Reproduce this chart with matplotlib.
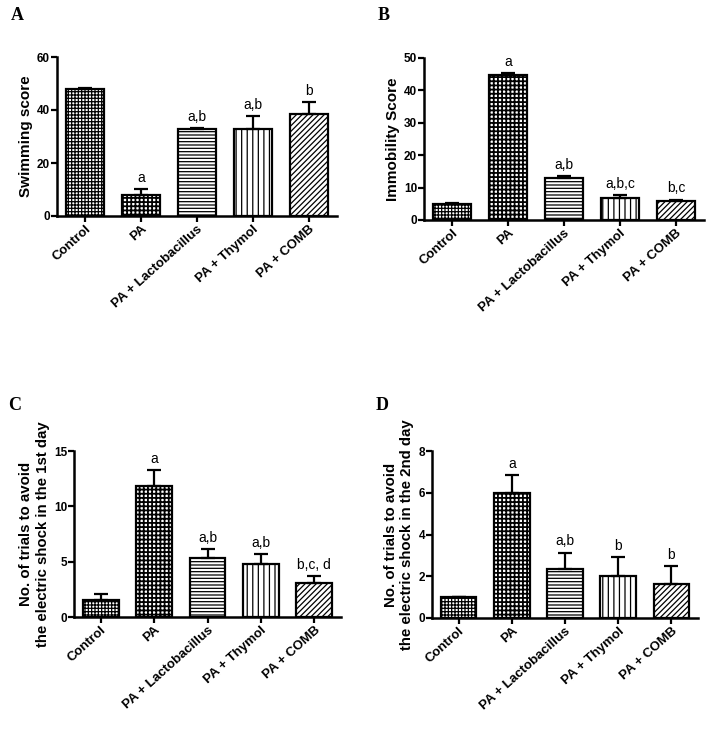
import numpy as np
import matplotlib
matplotlib.use("Agg")
import matplotlib.pyplot as plt

plt.rcParams['font.family'] = ['Liberation Sans', 'DejaVu Sans']
plt.rcParams['hatch.linewidth'] = 0.9

# groups shared by all four panels
groups = ['Control', 'PA', 'PA + Lactobacillus', 'PA + Thymol', 'PA + COMB']
hatches = ['+++++', '++++', '-----', '|||', '//////']
hatch_lw = [0.9, 1.3, 0.9, 0.9, 0.9]

# A: swimming score
swim_mean = [47.8, 7.9, 32.8, 32.8, 38.5]
swim_err = [0.6, 2.3, 0.5, 4.9, 4.5]
swim_sig = ['', 'a', 'a,b', 'a,b', 'b']

# B: immobility score
immo_mean = [4.9, 44.6, 12.9, 6.9, 5.9]
immo_err = [0.4, 0.8, 0.6, 0.8, 0.4]
immo_sig = ['', 'a', 'a,b', 'a,b,c', 'b,c']

# C: trials day 1
day1_mean = [1.5, 11.8, 5.35, 4.8, 3.1]
day1_err = [0.6, 1.5, 0.8, 0.85, 0.6]
day1_sig = ['', 'a', 'a,b', 'a,b', 'b,c, d']

# D: trials day 2
day2_mean = [1.0, 6.0, 2.33, 2.0, 1.65]
day2_err = [0.0, 0.86, 0.8, 0.9, 0.85]
day2_sig = ['', 'a', 'a,b', 'b', 'b']

W, H = 708, 741
fig = plt.figure(figsize=(W / 100, H / 100), dpi=100)


def px_axes(left, top, right, bottom):
    return fig.add_axes([left / W, 1 - bottom / H, (right - left) / W, (bottom - top) / H])


def panel(ax, mean, err, sig, ymax, yticks, ylabel, lab_size=11):
    x = np.arange(len(groups))
    for xi, m, h, lw in zip(x, mean, hatches, hatch_lw):
        plt.rcParams['hatch.linewidth'] = lw
        b = ax.bar(xi, m, width=0.67, color='white', edgecolor='black', linewidth=1.6,
                   hatch=h, zorder=2)[0]
        if hasattr(b, 'set_hatch_linewidth'):
            b.set_hatch_linewidth(lw)
    ax.errorbar(x, mean, yerr=[np.zeros(len(mean)), err], fmt='none', ecolor='black',
                elinewidth=1.6, capsize=5, capthick=1.6, zorder=3)
    for xi, m, e, s in zip(x, mean, err, sig):
        if s:
            ax.annotate(s, (xi, m + e), xytext=(0, 3), textcoords='offset points',
                        ha='center', va='bottom', fontsize=10)
    ax.set_xlim(-0.5, 4.5)
    ax.set_ylim(0, ymax)
    ax.set_yticks(yticks)
    ax.set_xticks(x)
    ax.set_xticklabels(groups, rotation=42, ha='right', rotation_mode='anchor',
                       fontsize=9.5, fontweight='bold')
    for lab in ax.get_yticklabels():
        lab.set_fontweight('bold')
        lab.set_fontsize(8.5)
    ax.set_ylabel(ylabel, fontsize=lab_size, fontweight='bold', labelpad=3)
    for sp in ['top', 'right']:
        ax.spines[sp].set_visible(False)
    for sp in ['left', 'bottom']:
        ax.spines[sp].set_linewidth(1.8)
    ax.tick_params(width=1.6, length=4, pad=1)


axA = px_axes(57, 57, 337, 216)
panel(axA, swim_mean, swim_err, swim_sig, 60, [0, 20, 40, 60], 'Swimming score')

axB = px_axes(424, 58, 704, 220)
panel(axB, immo_mean, immo_err, immo_sig, 50, [0, 10, 20, 30, 40, 50], 'Immobility Score')

axC = px_axes(74, 451, 341, 617)
panel(axC, day1_mean, day1_err, day1_sig, 15, [0, 5, 10, 15],
      'No. of trials to avoid\nthe electric shock in the 1st day', lab_size=10.8)

axD = px_axes(432, 451, 698, 618)
panel(axD, day2_mean, day2_err, day2_sig, 8, [0, 2, 4, 6, 8],
      'No. of trials to avoid\nthe electric shock in the 2nd day', lab_size=10.8)

for lbl, (px, py) in zip('ABCD', [(11, 20), (378, 20), (8, 410), (376, 410)]):
    fig.text(px / W, 1 - py / H, lbl, family='Liberation Serif', fontweight='bold', fontsize=13)

fig.savefig('out.png', dpi=100)
